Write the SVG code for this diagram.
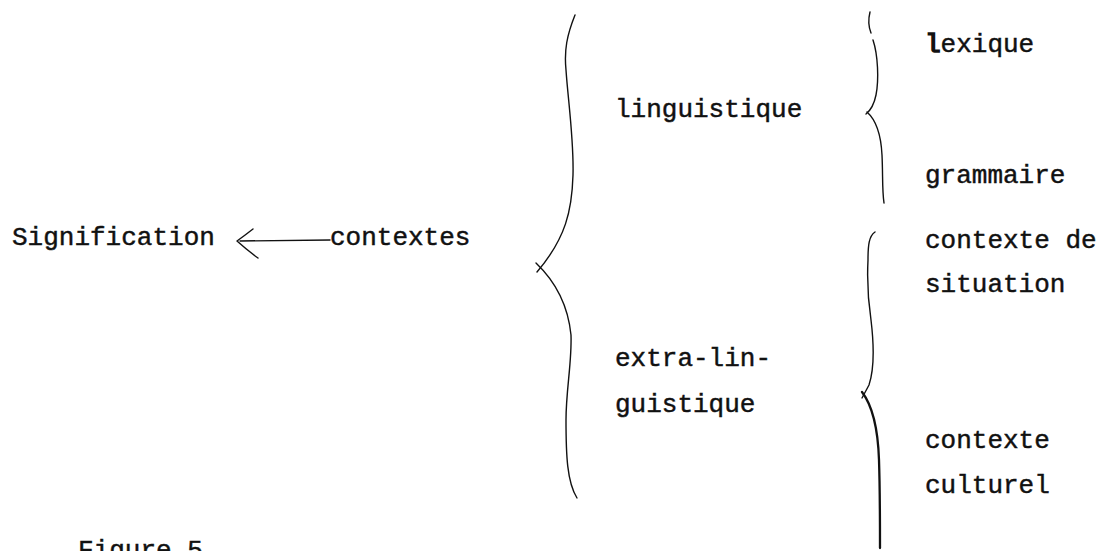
<svg xmlns="http://www.w3.org/2000/svg" width="1107" height="551" viewBox="0 0 1107 551">
<style>
.t{font-family:"Liberation Mono","Courier New",monospace;font-size:26px;fill:#111;stroke:#111;stroke-width:0.45}
.br{fill:none;stroke:#111;stroke-width:1.4;stroke-linecap:round;stroke-linejoin:round}
.brk{fill:none;stroke:#111;stroke-width:2.3;stroke-linecap:round}
</style>
<rect width="1107" height="551" fill="#fff"/>
<g id="signification"><text class="t" x="12" y="245">Signification</text></g>
<g id="contextes"><text class="t" x="330" y="245">contextes</text></g>
<g id="linguistique"><text class="t" x="615" y="117">linguistique</text></g>
<g id="extra-linguistique"><text class="t" x="615" y="366">extra-lin-</text><text class="t" x="615" y="412">guistique</text></g>
<g id="lexique"><text class="t" x="925" y="52"><tspan stroke-width="1.6">l</tspan>exique</text></g>
<g id="grammaire"><text class="t" x="925" y="183">grammaire</text></g>
<g id="contexte-situation"><text class="t" x="925" y="248">contexte de</text><text class="t" x="925" y="292">situation</text></g>
<g id="contexte-culturel"><text class="t" x="925" y="448">contexte</text><text class="t" x="925" y="493">culturel</text></g>
<g id="figure"><text class="t" x="78" y="558">Figure 5</text></g>
<g id="connectors">
<path class="br" d="M330,240 L240,241"/>
<path class="br" stroke-width="2.4" d="M253,229 Q244,236 237,241 Q247,250 258,258"/>
<path class="br" d="M575,15 C567,35 564,50 566,70 C568,100 574,140 573,175 C572,210 566,238 537,272"/>
<path class="br" d="M536,263 C556,282 568,305 571,335 C572,362 566,390 566,420 C566,455 567,482 577,498"/>
<path class="br" d="M870,12 C868,20 869,28 871,33 M873,40 C878,55 879,80 876,95 C874,105 871,110 866,114"/>
<path class="br" d="M867,112 C876,120 881,135 882,155 C883,175 882,190 884,203"/>
<path class="br" d="M875,232 C869,236 868,245 868,260 C867,280 868,300 871,320 C874,345 874,370 869,385 L862,398"/>
<path class="brk" d="M862,392 C872,405 878,430 879,460 C880,490 880,520 880,548"/>
</g>
</svg>
